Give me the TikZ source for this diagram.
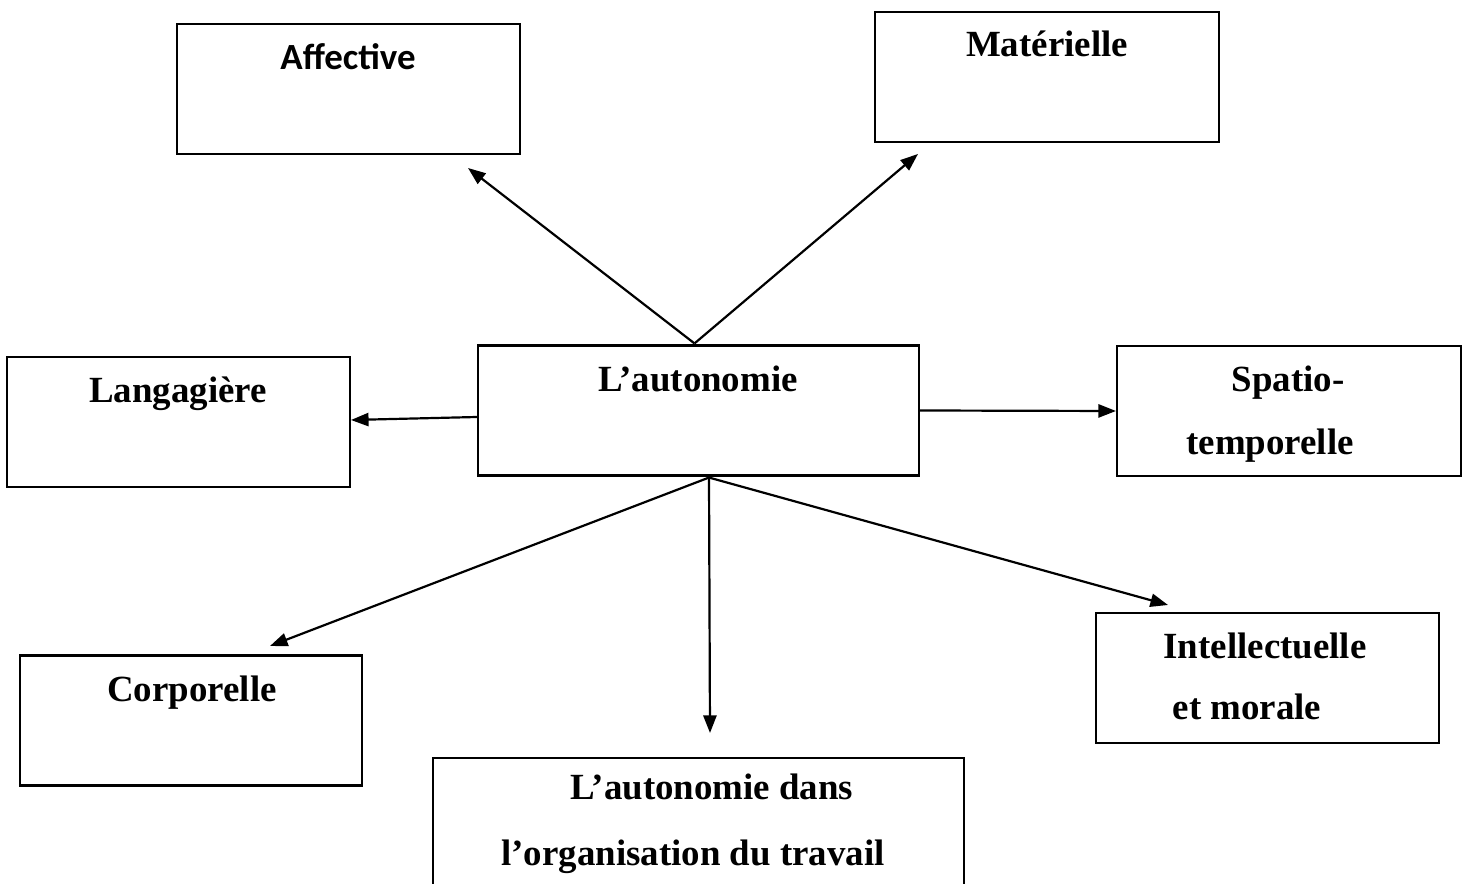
\documentclass[tikz,border=0pt]{standalone}
\usepackage{fontspec}
\setmainfont{Liberation Serif}
\newfontfamily\calibrifont{Carlito}
\usetikzlibrary{positioning, arrows.meta, calc}

\begin{document}
\begin{tikzpicture}[
  x=0.02cm, y=-0.02cm,
  box/.style={
    draw=black, line width=1.2pt, fill=white,
    minimum width=#1*0.02cm, minimum height=130*0.02cm, inner sep=0pt
  },
  box/.default=343,
  lbl/.style={
    anchor=base, inner sep=0pt,
    font=\fontsize{21}{25}\selectfont\bfseries
  },
  link/.style={
    -{Triangle[length=10pt, width=7.5pt]}, line width=1.25pt
  },
]
\useasboundingbox (0,0) rectangle (1465,884);
\clip (0,0) rectangle (1465,884);

% boxes
\node[box] (aff) at (348.5,89) {};
\node[box=344] (mat) at (1047,77) {};
\node[box=441] (aut) at (698.5,410.5) {};
\node[box] (lang) at (178.5,422) {};
\node[box=344] (spat) at (1289,411) {};
\node[box=342] (corp) at (191,720.5) {};
\node[box] (intel) at (1267.5,678) {};
\node[box=531] (org) at (698.5,823) {};

% labels
\node[lbl, font=\fontsize{21}{25}\selectfont\calibrifont\bfseries] (affT) at (348,70) {Affective};
\node[lbl] (matT) at (1047,57) {Matérielle};
\node[lbl] (autT) at (698,392) {L’autonomie};
\node[lbl] (langT) at (178,403) {Langagière};
\node[lbl] (spatT) at (1288,392) {Spatio-};
\node[lbl] (spatT2) at (1270,455) {temporelle};
\node[lbl] (corpT) at (192,702) {Corporelle};
\node[lbl] (intelT) at (1265,659) {Intellectuelle};
\node[lbl] (intelT2) at (1247,720) {et morale};
\node[lbl] (orgT) at (712,800) {L’autonomie dans};
\node[lbl] (orgT2) at (693,866) {l’organisation du travail};

% arrow ends
\coordinate (hub) at ($(aut.south)+(10.5,1)$);
\coordinate (affTip) at (468,168);
\coordinate (matTip) at (918,154);
\coordinate (langTip) at (351,420);
\coordinate (corpTip) at (270,646);
\coordinate (orgTip) at (710,733);
\coordinate (intelTip) at (1168,605);

% arrows
\draw[link] ($(aut.north)+(-4,-1)$) -- (affTip);
\draw[link] ($(aut.north)+(-4,-1)$) -- (matTip);
\draw[link] ($(aut.west)+(0,6.5)$) -- (langTip);
\draw[link] (aut.east) -- (spat.west);
\foreach \t in {corpTip, orgTip, intelTip} {
  \draw[link] (hub) -- (\t);
}

\end{tikzpicture}
\end{document}
